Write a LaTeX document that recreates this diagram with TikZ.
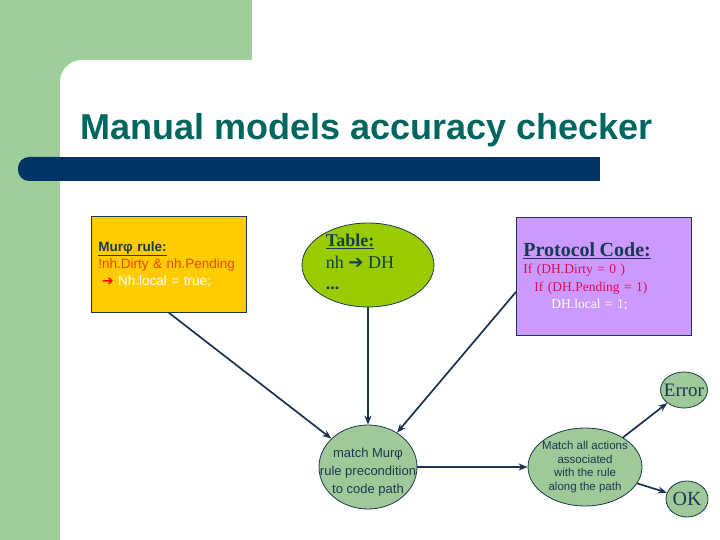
\documentclass[tikz,border=0pt]{standalone}
\usepackage{fontspec}
\setmainfont{Liberation Sans}
\newfontfamily\tms{Liberation Serif}
\newfontfamily\dvs{DejaVu Sans}
\usetikzlibrary{arrows.meta,shapes.geometric}
\definecolor{tgreen}{HTML}{9ECE9A}
\definecolor{tteal}{HTML}{00665F}
\definecolor{tbar}{HTML}{003366}
\definecolor{tline}{HTML}{1A3350}
\definecolor{tdark}{HTML}{173A50}
\definecolor{tyellow}{HTML}{FFCC00}
\definecolor{tlime}{HTML}{99CC00}
\definecolor{tlilac}{HTML}{CC99FF}
\definecolor{tsage}{HTML}{A0C898}
\definecolor{torange}{HTML}{E5480E}
\definecolor{tcrimson}{HTML}{DE0A4E}
\newcommand{\fs}[2]{\fontsize{#1}{#2}\selectfont}

\begin{document}
\begin{tikzpicture}[x=1pt, y=-1pt,
  box/.style={draw=tdark, line width=0.8pt, align=left, inner sep=7pt, anchor=north west},
  oval/.style={ellipse, draw=tdark, line width=0.8pt, fill=tsage, inner sep=0pt},
  arr/.style={-{Stealth[length=9pt,width=7pt]}, line width=1.7pt, draw=tline}]
\useasboundingbox (0,0) rectangle (720,540);
% slide background
\fill[tgreen] (0,0) rectangle (252,90);
\fill[tgreen] (0,0) rectangle (60,540);
\fill[white, rounded corners=22pt] (60,60) rectangle (760,600);
\fill[tbar, rounded corners=11pt] (18,157) rectangle (70,181);
\fill[tbar] (50,157) rectangle (600,181);
\node[anchor=base west, inner sep=0pt, text=tteal, font=\bfseries\fs{36}{40}] (title) at (80,140) {Manual models accuracy checker};
% top row
\node[box, fill=tyellow, text width=141pt, minimum height=96pt, font=\fs{13.5}{17}] (rule) at (91,216)
  {\textcolor{tdark}{\bfseries\underline{Murφ rule:}}\\
   \textcolor{torange}{!nh.Dirty \& nh.Pending}\\
   \hspace*{4pt}\textcolor{red}{\dvs\bfseries➔}\ \textcolor{white}{Nh.local = true;}};
\node[ellipse, draw=tdark, line width=0.8pt, fill=tlime, minimum width=132pt, minimum height=84pt, inner sep=0pt,
  label={[align=left, text=tdark, font={\tms\fs{18}{21.5}}, xshift=-8pt, yshift=3pt]center:{\bfseries\underline{Table:}\\nh {\dvs➔} DH\\\bfseries...}}] (table) at (368,265) {};
\node[box, fill=tlilac, text width=161pt, minimum height=118pt, font={\tms\fs{13.5}{17.5}}] (code) at (516,217)
  {{\fs{20}{22}\bfseries\textcolor{tdark}{\underline{Protocol Code:}}}\\
   \textcolor{tcrimson}{If (DH.Dirty = 0 )}\\
   \hspace*{11pt}\textcolor{tcrimson}{If (DH.Pending = 1)}\\
   \hspace*{28pt}\textcolor{white}{DH.local = 1;}};
% bottom row
\node[oval, minimum width=98pt, minimum height=84pt,
  label={[align=center, text=tdark, font=\fs{13}{18}, yshift=-5pt]center:{match Murφ\\rule precondition\\to code path}}] (match) at (368,467) {};
\node[oval, minimum width=114pt, minimum height=78pt,
  label={[align=center, text=tdark, font=\fs{11.5}{13.8}]center:{Match all actions\\associated\\with the rule\\along the path}}] (actions) at (585,467) {};
\node[oval, minimum width=47pt, minimum height=36pt,
  label={[text=tdark, font={\tms\fs{19}{19}}]center:Error}] (err) at (684,390) {};
\node[oval, minimum width=42pt, minimum height=36pt,
  label={[text=tdark, font={\tms\fs{20}{20}}]center:OK}] (ok) at (687,499) {};
% connectors
\draw[arr] (rule.south) -- (match);
\draw[arr] (table.south) -- (match.north);
\draw[arr] (code.190) -- (match);
\draw[arr] (match.east) -- (actions.west);
\draw[arr] (actions) -- (err);
\draw[arr] (actions) -- (ok);
\end{tikzpicture}
\end{document}
